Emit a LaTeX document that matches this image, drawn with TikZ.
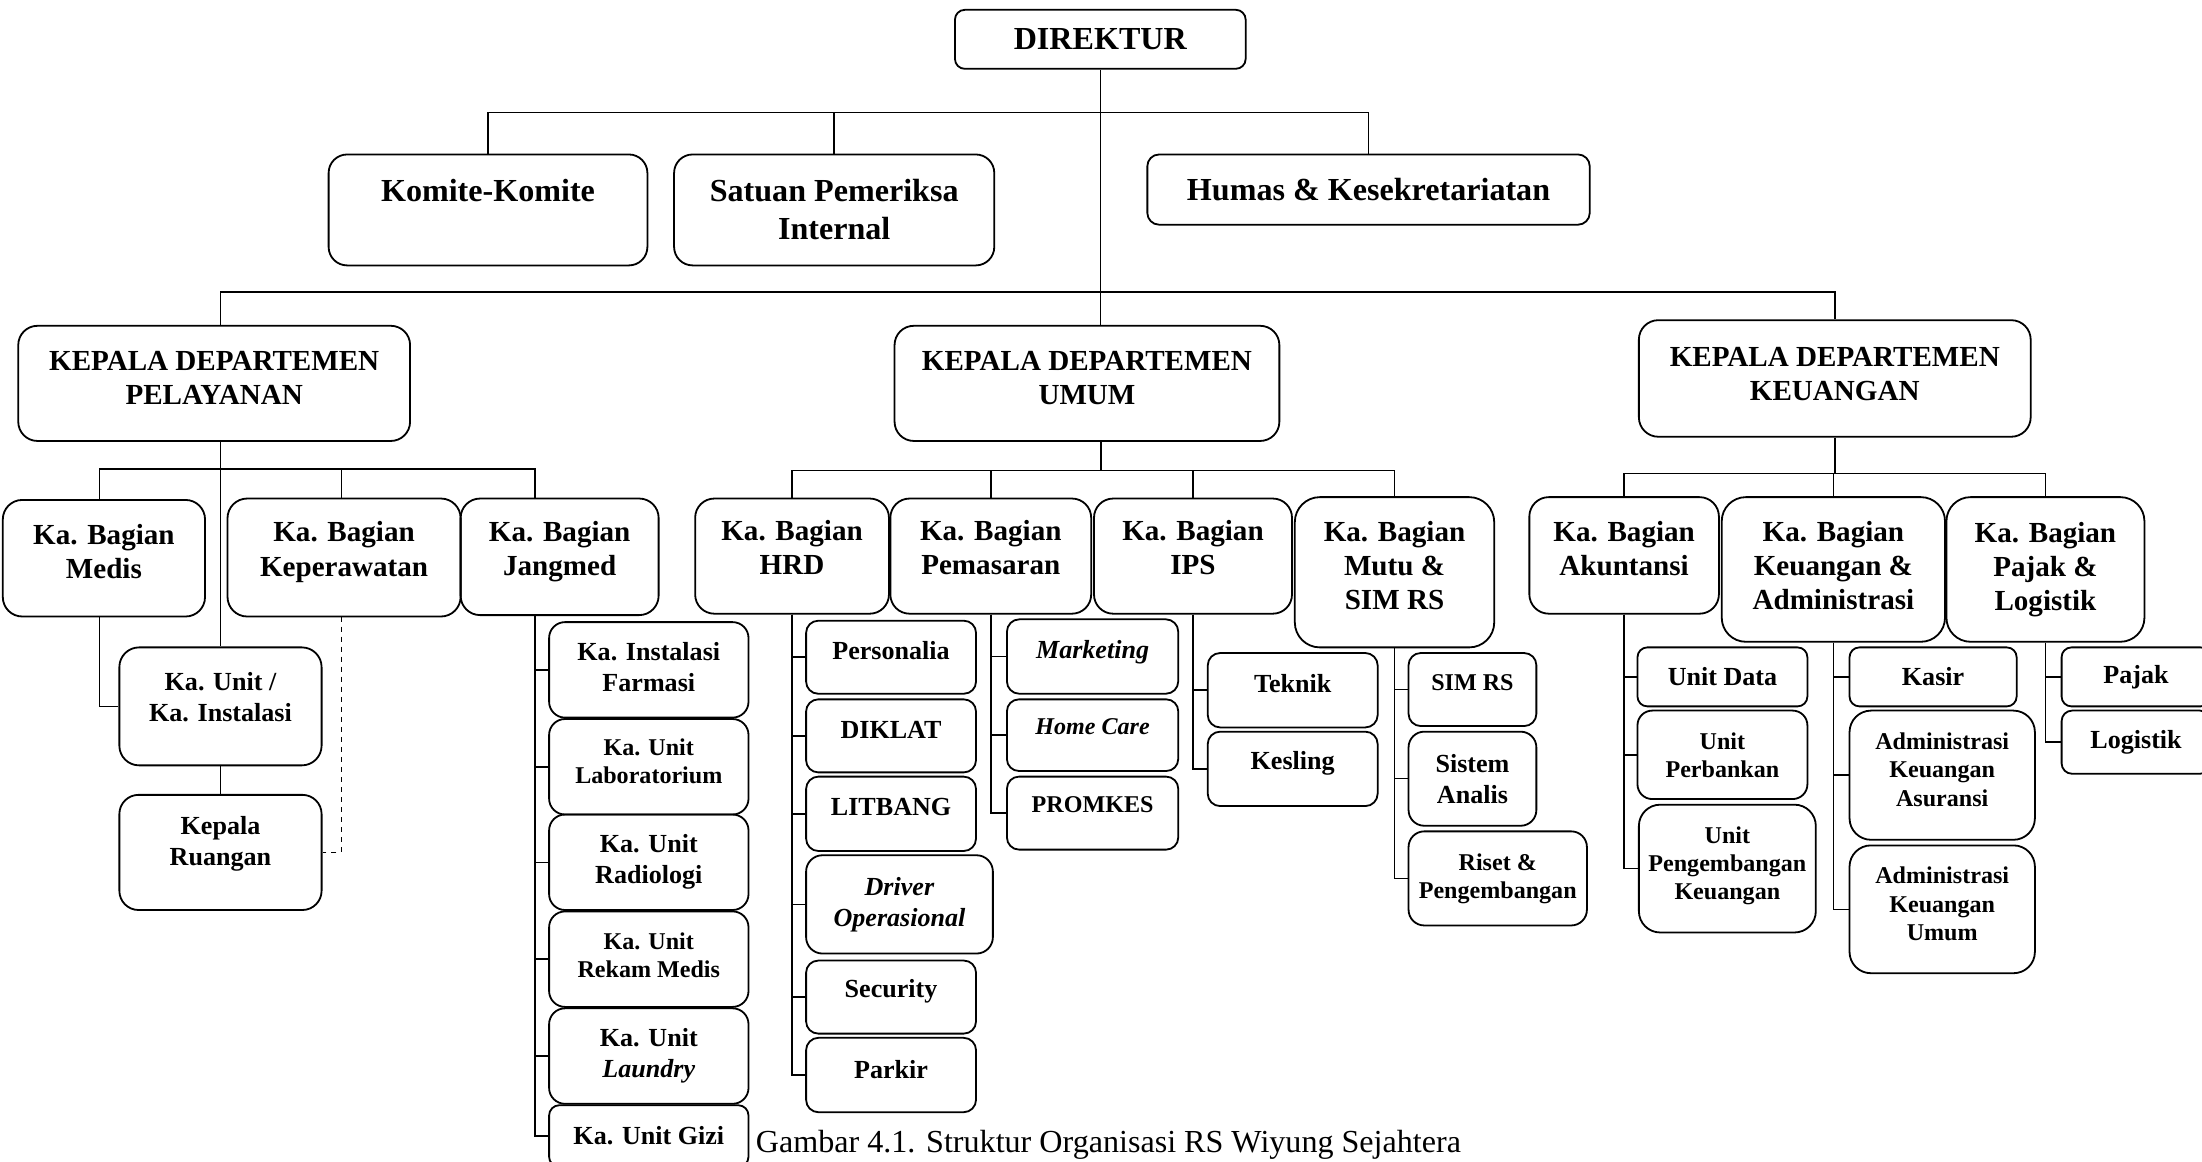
\documentclass[tikz,border=0pt]{standalone}
\usepackage{fontspec}
\setmainfont{Liberation Serif}
\tikzset{
  orgbox/.style={draw, line width=0.9pt, align=center, inner sep=1pt,
    font=\bfseries\fontsize{14.5}{17}\selectfont},
  wh/.style 2 args={minimum width=#1*0.7pt, minimum height=#2*0.7pt,
    rounded corners=#2*0.1167pt},
  lift/.style={execute at end node={\rule[-#1pt]{0pt}{0pt}}},
  headfont/.style={font=\bfseries\fontsize{16}{19}\selectfont},
  unitfont/.style={font=\bfseries\fontsize{13}{15.5}\selectfont},
  smallfont/.style={font=\bfseries\fontsize{12}{14}\selectfont},
  conn/.style={line width=0.75pt},
  vh/.style={to path={|- (\tikztotarget)}},
  hv/.style={to path={-| (\tikztotarget)}},
}

\begin{document}
\begin{tikzpicture}[x=0.7pt, y=-0.7pt]
\useasboundingbox (0,0) rectangle (1568,827);

% direktur dan staf
\node[orgbox, headfont, wh={207}{42}] (dir) at (783.5,28) {DIREKTUR};
\node[orgbox, headfont, wh={227}{79}, lift=20] (komite) at (347.5,149.5) {Komite-Komite};
\node[orgbox, headfont, wh={228}{79}] (satuan) at (594,149.5) {Satuan Pemeriksa\\Internal};
\node[orgbox, headfont, wh={315}{50}] (humas) at (974.5,135) {Humas \& Kesekretariatan};

% departemen
\node[orgbox, wh={279}{82}, lift=5.6] (pel) at (152.5,273) {KEPALA DEPARTEMEN\\PELAYANAN};
\node[orgbox, wh={274}{82}, lift=5.6] (umum) at (774,273) {KEPALA DEPARTEMEN\\UMUM};
\node[orgbox, wh={279}{83}, lift=4.2] (keu) at (1306.5,269.5) {KEPALA DEPARTEMEN\\KEUANGAN};

% pelayanan
\node[orgbox, wh={144}{83}, lift=7] (medis) at (74,397.5) {Ka. Bagian\\Medis};
\node[orgbox, wh={166}{84}, lift=8.6] (perawat) at (245,397) {Ka. Bagian\\Keperawatan};
\node[orgbox, wh={141}{83}, lift=8.6] (jang) at (398.5,396.5) {Ka. Bagian\\Jangmed};
\node[orgbox, unitfont, wh={144}{84}, lift=9.8] (unit) at (157,503) {Ka. Unit /\\Ka. Instalasi};
\node[orgbox, unitfont, wh={144}{82}, lift=11.4] (ruang) at (157,607) {Kepala\\Ruangan};
\node[orgbox, unitfont, wh={142}{68}, lift=2.8] (farmasi) at (462,477) {Ka. Instalasi\\Farmasi};
\node[orgbox, smallfont, wh={142}{68}, lift=5.6] (lab) at (462,546) {Ka. Unit\\Laboratorium};
\node[orgbox, unitfont, wh={142}{68}] (radio) at (462,614) {Ka. Unit\\Radiologi};
\node[orgbox, smallfont, wh={142}{68}, lift=4.2] (rekam) at (462,683) {Ka. Unit\\Rekam Medis};
\node[orgbox, unitfont, wh={142}{68}] (laundry) at (462,752) {Ka. Unit\\\textit{Laundry}};
\node[orgbox, unitfont, wh={142}{44}] (gizi) at (462,809) {Ka. Unit Gizi};

% umum
\node[orgbox, wh={138}{82}, lift=8.4] (hrd) at (564,396) {Ka. Bagian\\HRD};
\node[orgbox, wh={143}{82}, lift=8.4] (pemasaran) at (705.5,396) {Ka. Bagian\\Pemasaran};
\node[orgbox, wh={141}{82}, lift=8.4] (ips) at (849.5,396) {Ka. Bagian\\IPS};
\node[orgbox, wh={142}{107}, lift=7] (mutu) at (993,407.5) {Ka. Bagian\\Mutu \&\\SIM RS};
\node[orgbox, unitfont, wh={121}{52}, lift=7] (pers) at (634.5,468) {Personalia};
\node[orgbox, unitfont, wh={121}{52}, lift=5.6] (diklat) at (634.5,524) {DIKLAT};
\node[orgbox, unitfont, wh={121}{53}, lift=7] (litbang) at (634.5,579.5) {LITBANG};
\node[orgbox, unitfont, wh={133}{70}] (driver) at (640.5,644) {\textit{Driver}\\\textit{Operasional}};
\node[orgbox, unitfont, wh={121}{52}, lift=8.6] (security) at (634.5,710) {Security};
\node[orgbox, unitfont, wh={121}{53}, lift=5.6] (parkir) at (634.5,765.5) {Parkir};
\node[orgbox, unitfont, wh={122}{53}, lift=7.2] (marketing) at (778,467.5) {\textit{Marketing}};
\node[orgbox, smallfont, wh={122}{51}, lift=8.4] (homecare) at (778,523.5) {\textit{Home Care}};
\node[orgbox, smallfont, wh={122}{52}, lift=8.4] (promkes) at (778,579) {PROMKES};
\node[orgbox, unitfont, wh={121}{53}, lift=7] (teknik) at (920.5,491.5) {Teknik};
\node[orgbox, unitfont, wh={121}{53}, lift=8.6] (kesling) at (920.5,547.5) {Kesling};
\node[orgbox, smallfont, wh={91}{52}, lift=7] (simrs) at (1048.5,491) {SIM RS};
\node[orgbox, unitfont, wh={91}{67}] (analis) at (1048.5,554.5) {Sistem\\Analis};
\node[orgbox, smallfont, wh={127}{67}] (riset) at (1066.5,625.5) {Riset \&\\Pengembangan};

% keuangan
\node[orgbox, wh={135}{83}, lift=7] (akun) at (1156.5,395.5) {Ka. Bagian\\Akuntansi};
\node[orgbox, wh={159}{103}, lift=4.2] (keuadm) at (1305.5,405.5) {Ka. Bagian\\Keuangan \&\\Administrasi};
\node[orgbox, wh={141}{103}] (pjlog) at (1456.5,405.5) {Ka. Bagian\\Pajak \&\\Logistik};
\node[orgbox, unitfont, wh={121}{42}] (udata) at (1226.5,482) {Unit Data};
\node[orgbox, smallfont, wh={121}{63}] (uperb) at (1226.5,537.5) {Unit\\Perbankan};
\node[orgbox, smallfont, wh={126}{91}, lift=5.8] (upeng) at (1230,618.5) {Unit\\Pengembangan\\Keuangan};
\node[orgbox, unitfont, wh={119}{42}] (kasir) at (1376.5,482) {Kasir};
\node[orgbox, smallfont, wh={132}{92}, lift=5.6] (asur) at (1383,552) {Administrasi\\Keuangan\\Asuransi};
\node[orgbox, smallfont, wh={132}{91}, lift=5.6] (admum) at (1383,647.5) {Administrasi\\Keuangan\\Umum};
\node[orgbox, unitfont, wh={106}{42}] (pajak) at (1521,482) {Pajak};
\node[orgbox, unitfont, wh={106}{45}] (logistik) at (1521,528.5) {Logistik};

\node[anchor=west, inner sep=0pt, font=\fontsize{16}{19}\selectfont] (caption) at (538,815)
  {Gambar 4.1. Struktur Organisasi RS Wiyung Sejahtera};

% titik cabang
\coordinate (b1) at (783,80);
\coordinate (b2) at (783,208);
\coordinate (spel) at (157,314);
\coordinate (bp) at (157,334);
\coordinate (smed) at (71,439);
\coordinate (sper) at (243,439);
\coordinate (sjang) at (381,438);
\coordinate (bu) at (784,335);
\coordinate (bk) at (1306,337);

\path[conn]
  (dir.south) edge (dir.south |- umum.north)
  (b1) edge[hv] (komite.north) edge[hv] (satuan.north) edge[hv] (humas.north)
  (b2) edge[hv] (spel |- pel.north) edge[hv] (keu.north);

\path[conn]
  (spel) edge (spel |- unit.north)
  (bp) edge[hv] (smed |- medis.north) edge[hv] (sper |- perawat.north)
       edge[hv] (sjang |- jang.north)
  (smed) edge[vh] (unit.west)
  (unit) edge (ruang)
  (sjang) edge[vh] (farmasi.west) edge[vh] (lab.west) edge[vh] (radio.west)
          edge[vh] (rekam.west) edge[vh] (laundry.west) edge[vh] (gizi.west);
\draw[conn, dash pattern=on 2.5pt off 2.5pt] (sper) |- (ruang.east);

\path[conn]
  (umum.south -| bu) edge (bu)
  (bu) edge[hv] (hrd.north) edge[hv] (pemasaran.north) edge[hv] (ips.north)
       edge[hv] (mutu.north)
  (hrd.south) edge[vh] (pers.west) edge[vh] (diklat.west) edge[vh] (litbang.west)
              edge[vh] (driver.west) edge[vh] (security.west) edge[vh] (parkir.west)
  (pemasaran.south) edge[vh] (marketing.west) edge[vh] (homecare.west)
                    edge[vh] (promkes.west)
  (ips.south) edge[vh] (teknik.west) edge[vh] (kesling.west)
  (mutu.south) edge[vh] (simrs.west) edge[vh] (analis.west) edge[vh] (riset.west);

\path[conn]
  (keu.south) edge (keu.south |- bk)
  (bk) edge[hv] (akun.north) edge[hv] (keuadm.north) edge[hv] (pjlog.north)
  (akun.south) edge[vh] (udata.west) edge[vh] (uperb.west) edge[vh] (upeng.west)
  (keuadm.south) edge[vh] (kasir.west) edge[vh] (asur.west) edge[vh] (admum.west)
  (pjlog.south) edge[vh] (pajak.west) edge[vh] (logistik.west);
\end{tikzpicture}
\end{document}
